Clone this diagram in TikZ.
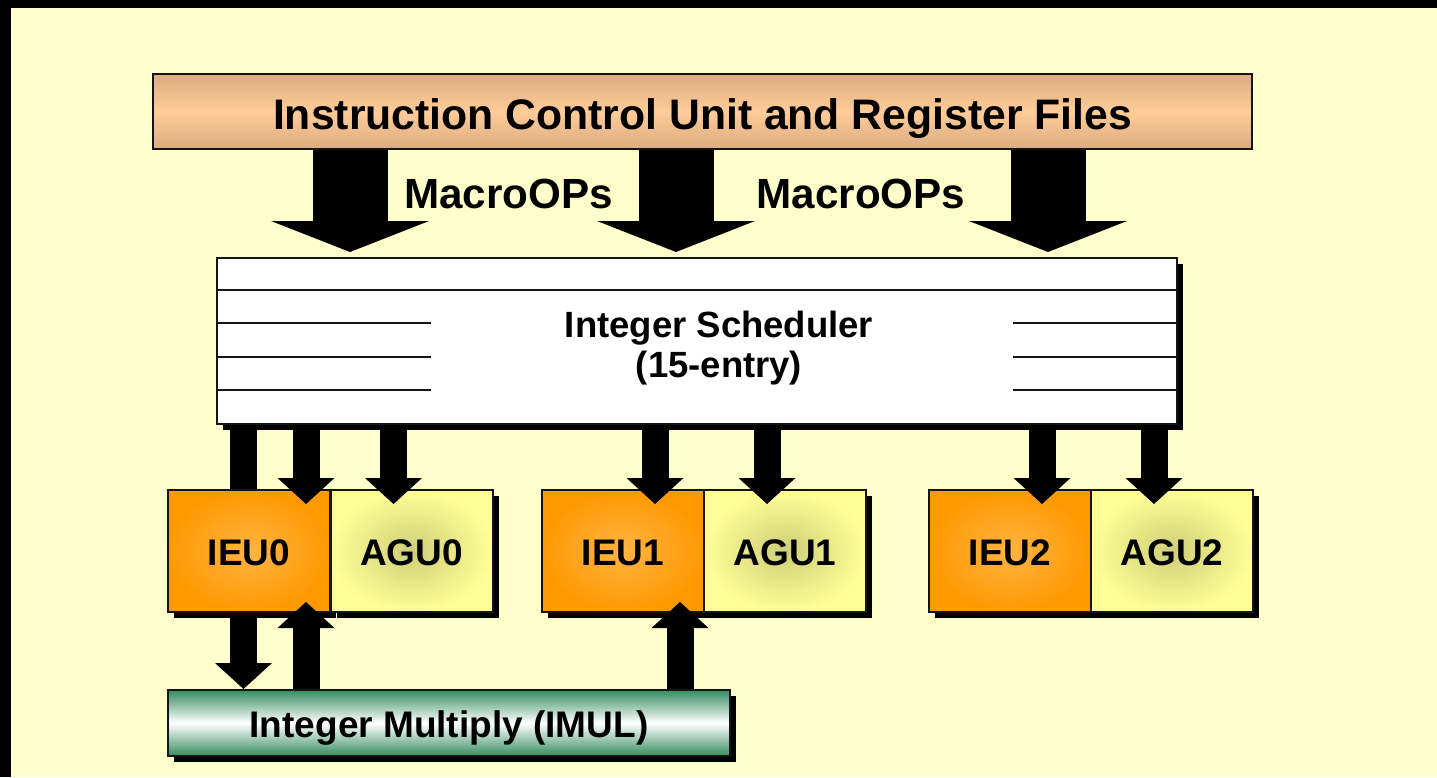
\documentclass[tikz,border=0pt]{standalone}
\usepackage{fontspec}
\setmainfont{Liberation Sans}
\usetikzlibrary{arrows.meta,shadows,calc}
\definecolor{bgyellow}{RGB}{255,255,204}
\definecolor{topedge}{RGB}{219,172,128}
\definecolor{topmid}{RGB}{255,204,153}
\definecolor{ieuouter}{RGB}{255,153,0}
\definecolor{ieuinner}{RGB}{255,180,68}
\definecolor{aguouter}{RGB}{255,255,150}
\definecolor{aguinner}{RGB}{206,206,120}
\definecolor{imulgreen}{RGB}{52,140,96}
\definecolor{edge}{RGB}{20,20,20}
\tikzset{
  boxline/.style={draw=edge, line width=2pt},
  shadowed/.style={drop shadow={shadow xshift=6pt, shadow yshift=-6pt, fill=black, opacity=1}},
  topbox/.style={boxline, inner sep=0pt, minimum width=1099pt, minimum height=75pt,
    top color=topedge, bottom color=topedge, middle color=topmid,
    font=\fontsize{42.7}{50}\selectfont\bfseries, text height=35pt, text depth=0pt},
  schedbox/.style={boxline, shadowed, fill=white, inner sep=0pt, minimum width=960pt, minimum height=166pt},
  unitbox/.style={boxline, shadowed, inner sep=0pt, minimum width=162pt, minimum height=122pt,
    font=\fontsize{37}{44}\selectfont\bfseries, text height=28pt, text depth=0pt},
  ieubox/.style={unitbox, shading=radial, inner color=ieuinner, outer color=ieuouter},
  agubox/.style={unitbox, shading=radial, inner color=aguinner, outer color=aguouter},
  imulbox/.style={boxline, shadowed, inner sep=0pt, minimum width=562pt, minimum height=66pt,
    top color=imulgreen, bottom color=imulgreen, middle color=white,
    font=\fontsize{37}{44}\selectfont\bfseries, text height=28pt, text depth=0pt},
  labeltext/.style={inner sep=0pt, font=\fontsize{42.2}{50}\selectfont\bfseries},
  schedtext/.style={inner sep=0pt, align=center, font=\fontsize{36.5}{40}\selectfont\bfseries},
  schedrow/.style={draw=edge, line width=2pt},
  bigarrow/.style={draw=black, line width=75pt, -{Triangle[width=158pt,length=31pt,line width=0pt]}},
  smallarrow/.style={draw=black, line width=27pt, -{Triangle[width=57pt,length=26pt,line width=0pt]}},
}
\begin{document}
\begin{tikzpicture}[x=1pt,y=-1pt]
\useasboundingbox (0,0) rectangle (1437,777);
\fill[bgyellow] (0,0) rectangle (1437,777);
\fill[black] (0,0) rectangle (1437,8);
\fill[black] (0,0) rectangle (11,777);

% top box
\node[topbox] (icu) at (702.5,111.5) {Instruction Control Unit and Register Files};

% scheduler
\node[schedbox] (sched) at (697,341) {};
\draw[schedrow] ($(sched.north west)+(0,33)$) -- ($(sched.north east)+(0,33)$);
\foreach \dy in {66,100,133}{
  \draw[schedrow] ($(sched.north west)+(0,\dy)$) -- ($(sched.north west)+(215,\dy)$);
  \draw[schedrow] ($(sched.north east)+(-165,\dy)$) -- ($(sched.north east)+(0,\dy)$);
}
\node[schedtext, anchor=north] (schedlabel) at (719,310.5) {Integer Scheduler\\(15-entry)};

% big arrows
\coordinate (xa) at (350,0);
\coordinate (xb) at (676,0);
\coordinate (xc) at (1048,0);
\draw[bigarrow] (xa |- icu.south) -- ($(xa |- sched.north)+(0,-5)$);
\draw[bigarrow] (xb |- icu.south) -- ($(xb |- sched.north)+(0,-5)$);
\draw[bigarrow] (xc |- icu.south) -- ($(xc |- sched.north)+(0,-5)$);
\node[labeltext, anchor=base] (mop1) at (508.5,208) {MacroOPs};
\node[labeltext, anchor=base] (mop2) at (861,208) {MacroOPs};

% integer multiply
\node[imulbox] (imul) at (449,723) {Integer Multiply (IMUL)};

% arrow from scheduler to IMUL passing behind IEU0
\coordinate (x0) at (243.5,0);
\draw[smallarrow] (x0 |- sched.south) -- (x0 |- imul.north);

% execution units
\node[ieubox] (ieu0) at (249,551) {IEU0};
\node[agubox] (agu0) at (411.5,551) {AGU0};
\node[ieubox] (ieu1) at (623,551) {IEU1};
\node[agubox] (agu1) at (785,551) {AGU1};
\node[ieubox] (ieu2) at (1010,551) {IEU2};
\node[agubox] (agu2) at (1172,551) {AGU2};

% scheduler to units
\coordinate (x1) at (306,0);
\coordinate (x2) at (393.5,0);
\coordinate (x3) at (655,0);
\coordinate (x4) at (767,0);
\coordinate (x5) at (1042,0);
\coordinate (x6) at (1154,0);
\draw[smallarrow] (x1 |- sched.south) -- ($(x1 |- ieu0.north)+(0,15)$);
\draw[smallarrow] (x2 |- sched.south) -- ($(x2 |- agu0.north)+(0,15)$);
\draw[smallarrow] (x3 |- sched.south) -- ($(x3 |- ieu1.north)+(0,15)$);
\draw[smallarrow] (x4 |- sched.south) -- ($(x4 |- agu1.north)+(0,15)$);
\draw[smallarrow] (x5 |- sched.south) -- ($(x5 |- ieu2.north)+(0,15)$);
\draw[smallarrow] (x6 |- sched.south) -- ($(x6 |- agu2.north)+(0,15)$);

% IMUL back to units
\coordinate (x7) at (680,0);
\draw[smallarrow] (x1 |- imul.north) -- ($(x1 |- ieu0.south)+(0,-11)$);
\draw[smallarrow] (x7 |- imul.north) -- ($(x7 |- ieu1.south)+(0,-11)$);
\end{tikzpicture}
\end{document}
